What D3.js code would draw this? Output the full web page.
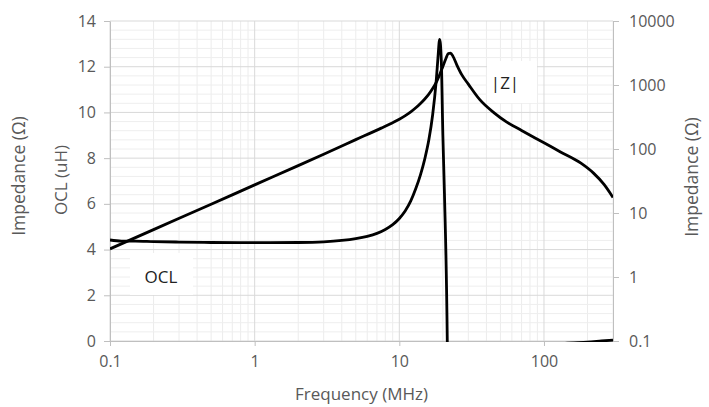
<!DOCTYPE html>
<html><head><meta charset="utf-8">
<script src="https://cdn.jsdelivr.net/npm/d3@7"></script>
<style>body{margin:0;background:#fff}svg{display:block}text{font-family:"Open Sans",sans-serif}</style>
</head><body><svg id="c" width="709" height="407"></svg>
<script>
const zFreq = [0.1,0.2,0.5,1,2,3,5,7.5,9,10,11,12,13,14,15,16,17,18,19,20,21,21.8,22.6,23.5,25,27,30,36,45,55,70,100,130,180,220,260,300];
const zVals = [2.75,5.5,13.7,27.5,55,83,140,212,258,292,332,380,440,515,605,720,880,1100,1450,1950,2600,3100,3150,2800,2050,1450,1030,590,370,265,195,125,90,60,42,28,17.5];
const oclFreq = [0.1,0.12,0.15,0.2,0.3,0.5,1,2,3,4,5,6,7,8,9,10,11,12,13,14,15,16,17,18,18.5,19,19.5,20,20.5,21.5,23,30,50,100,140,200,250,300];
const oclVals = [4.42,4.37,4.37,4.35,4.33,4.31,4.30,4.31,4.34,4.4,4.48,4.58,4.71,4.88,5.09,5.36,5.7,6.13,6.67,7.27,7.97,8.8,9.9,11.4,12.4,13.2,12.3,9.0,6.5,-0.5,-30,-8,-3,-1,-0.1,-0.05,0.0,0.04];
const xTicks = [0.1,1,10,100];
const yLeftTicks = [0,2,4,6,8,10,12,14];
const yRightTicks = [0.1,1,10,100,1000,10000];

const svg = d3.select("#c");
const L=110,R=613,T=21,B=341;
const x = d3.scaleLog().domain([0.1,300]).range([L,R]);
const yL = d3.scaleLinear().domain([0,14]).range([B,T]);
const yR = d3.scaleLog().domain([0.1,10000]).range([B,T]);
const grey="#595959";

const minorX=[];
[0.1,1,10,100].forEach(d=>{for(let k=2;k<=9;k++){const v=d*k;if(v<=300)minorX.push(v);}});
const g=svg.append("g");
g.selectAll(".mx").data(minorX).enter().append("line")
 .attr("x1",d=>x(d)).attr("x2",d=>x(d)).attr("y1",T).attr("y2",B).attr("stroke","#ececec").attr("stroke-width",1);
const minorY=d3.range(0,14.01,0.4).filter(v=>Math.abs(v/2-Math.round(v/2))>1e-6);
g.selectAll(".my").data(minorY).enter().append("line")
 .attr("x1",L).attr("x2",R).attr("y1",d=>yL(d)).attr("y2",d=>yL(d)).attr("stroke","#eeeeee").attr("stroke-width",1);
g.selectAll(".Mx").data(xTicks).enter().append("line")
 .attr("x1",d=>x(d)).attr("x2",d=>x(d)).attr("y1",T).attr("y2",B).attr("stroke","#d9d9d9").attr("stroke-width",1);
g.selectAll(".My").data(yLeftTicks).enter().append("line")
 .attr("x1",L).attr("x2",R).attr("y1",d=>yL(d)).attr("y2",d=>yL(d)).attr("stroke","#d9d9d9").attr("stroke-width",1);

function style(sel){sel.select(".domain").attr("stroke","#bfbfbf");sel.selectAll(".tick line").attr("stroke","#bfbfbf");sel.selectAll("text").attr("fill",grey).style("font-size","16px").style("font-family","'Open Sans',sans-serif");}
svg.append("g").attr("transform",`translate(0,${B})`)
 .call(d3.axisBottom(x).tickValues(xTicks).tickFormat(d=>String(d)).tickSize(5).tickSizeOuter(0).tickPadding(10)).call(style);
svg.append("g").attr("transform",`translate(${L},0)`)
 .call(d3.axisLeft(yL).tickValues(yLeftTicks).tickSize(6).tickSizeOuter(0).tickPadding(8)).call(style);
svg.append("g").attr("transform",`translate(${R},0)`)
 .call(d3.axisRight(yR).tickValues(yRightTicks).tickFormat(d=>String(d)).tickSize(6).tickSizeOuter(0).tickPadding(10)).call(style);

svg.append("clipPath").attr("id","clip").append("rect").attr("x",L).attr("y",T-2).attr("width",R-L).attr("height",B-T+3);

const lineZ=d3.line().x((d,i)=>x(zFreq[i])).y(d=>yR(d)).curve(d3.curveMonotoneX);
const lineO=d3.line().x((d,i)=>x(oclFreq[i])).y(d=>yL(d)).curve(d3.curveMonotoneX);

svg.append("rect").attr("x",130).attr("y",253).attr("width",63).attr("height",42).attr("fill","#fff");
svg.append("text").attr("x",161).attr("y",276).attr("text-anchor","middle").attr("dominant-baseline","central").attr("fill","#222").style("font-size","17px").text("OCL");
svg.append("rect").attr("x",487).attr("y",61).attr("width",50).attr("height",42).attr("fill","#fff");
svg.append("text").attr("x",505).attr("y",82).attr("text-anchor","middle").attr("dominant-baseline","central").attr("fill","#222").style("font-size","17px").text("|Z|");

const lg=svg.append("g").attr("clip-path","url(#clip)");
lg.append("path").attr("d",lineZ(zVals)).attr("fill","none").attr("stroke","#000").attr("stroke-width",2.8);
lg.append("path").attr("d",lineO(oclVals)).attr("fill","none").attr("stroke","#000").attr("stroke-width",2.8);

svg.append("text").attr("x",(L+R)/2).attr("y",400).attr("text-anchor","middle").attr("fill",grey).style("font-size","17px").text("Frequency (MHz)");
svg.append("text").attr("transform","translate(18,176) rotate(-90)").attr("text-anchor","middle").attr("dominant-baseline","central").attr("fill",grey).style("font-size","17.5px").text("Impedance (Ω)");
svg.append("text").attr("transform","translate(60,180) rotate(-90)").attr("text-anchor","middle").attr("dominant-baseline","central").attr("fill",grey).style("font-size","17px").text("OCL (uH)");
svg.append("text").attr("transform","translate(691,177) rotate(-90)").attr("text-anchor","middle").attr("dominant-baseline","central").attr("fill",grey).style("font-size","17.5px").text("Impedance (Ω)");
</script></body></html>
